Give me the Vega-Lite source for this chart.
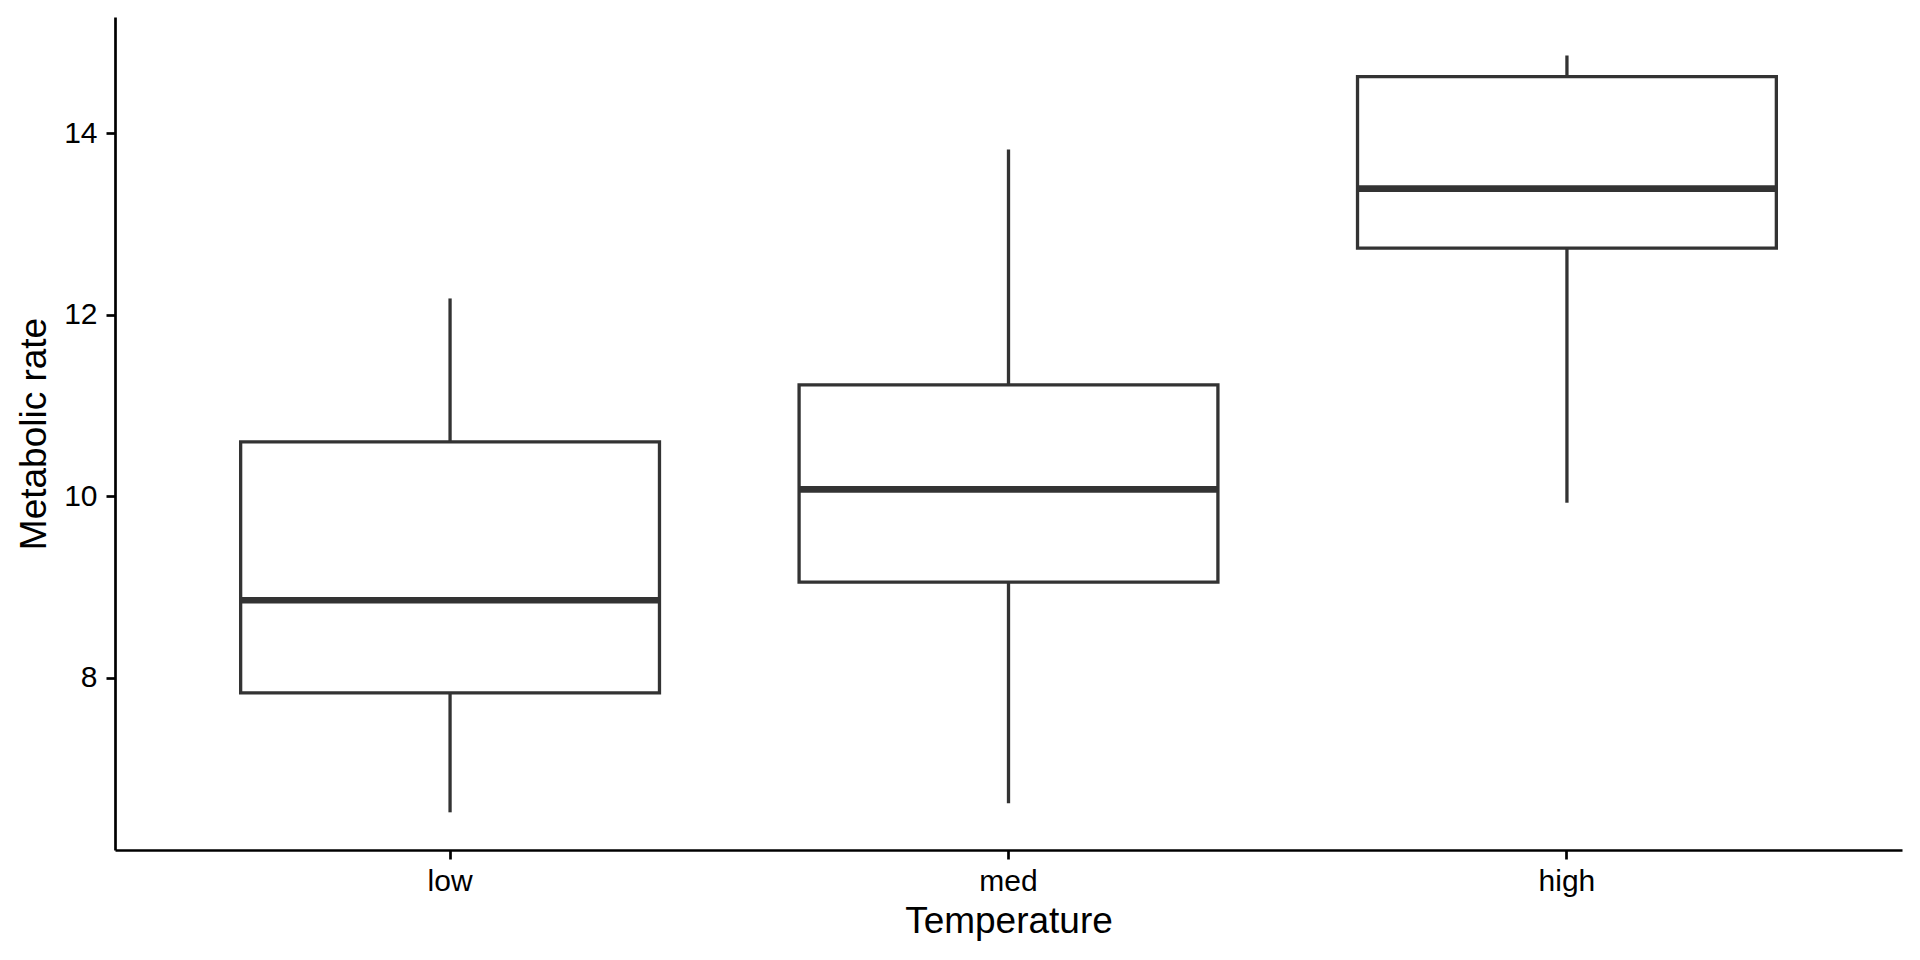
{
  "$schema": "https://vega.github.io/schema/vega-lite/v6.json",
  "width": 1787,
  "height": 833,
  "autosize": {"type": "none"},
  "padding": {"left": 115, "top": 17, "right": 18, "bottom": 110},
  "background": "white",
  "config": {
    "view": {"stroke": null},
    "font": "Liberation Sans",
    "axis": {
      "grid": false,
      "domainColor": "#000000",
      "domainWidth": 2.7,
      "tickColor": "#000000",
      "tickWidth": 2.7,
      "tickSize": 9,
      "labelColor": "#000000",
      "labelFont": "Liberation Sans",
      "labelFontSize": 30,
      "titleFont": "Liberation Sans",
      "titleFontSize": 37,
      "titleFontWeight": "normal",
      "titleColor": "#000000"
    }
  },
  "data": {
    "values": [
      {"temp": "low", "lower": 6.52, "q1": 7.835, "median": 8.856, "q3": 10.60, "upper": 12.18},
      {"temp": "med", "lower": 6.62, "q1": 9.055, "median": 10.077, "q3": 11.227, "upper": 13.82},
      {"temp": "high", "lower": 9.93, "q1": 12.735, "median": 13.39, "q3": 14.624, "upper": 14.856}
    ]
  },
  "encoding": {
    "x": {
      "field": "temp",
      "type": "nominal",
      "sort": ["low", "med", "high"],
      "scale": {"paddingInner": 0.25, "paddingOuter": 0.225},
      "axis": {"title": "Temperature", "labelAngle": 0, "labelPadding": 7, "titlePadding": 7}
    }
  },
  "layer": [
    {
      "mark": {"type": "rule", "color": "#333333", "strokeWidth": 3.3},
      "encoding": {
        "y": {
          "field": "lower",
          "type": "quantitative",
          "scale": {"domain": [6.105, 15.28], "nice": false, "zero": false},
          "axis": {"title": "Metabolic rate", "values": [8, 10, 12, 14], "format": "d", "labelPadding": 9, "titlePadding": 10}
        },
        "y2": {"field": "q1"}
      }
    },
    {
      "mark": {"type": "rule", "color": "#333333", "strokeWidth": 3.3},
      "encoding": {
        "y": {"field": "q3", "type": "quantitative"},
        "y2": {"field": "upper"}
      }
    },
    {
      "mark": {"type": "bar", "fill": "white", "stroke": "#333333", "strokeWidth": 3.3},
      "encoding": {
        "y": {"field": "q1", "type": "quantitative"},
        "y2": {"field": "q3"}
      }
    },
    {
      "mark": {"type": "tick", "color": "#333333", "thickness": 6.6, "opacity": 1},
      "encoding": {
        "y": {"field": "median", "type": "quantitative"}
      }
    }
  ]
}
